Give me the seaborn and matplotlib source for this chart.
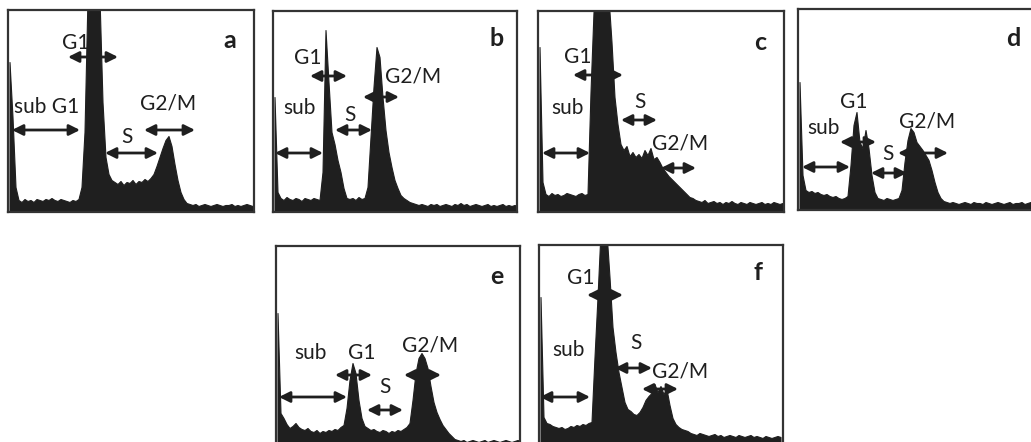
import numpy as np
import pandas as pd
import matplotlib
matplotlib.use("Agg")
import matplotlib.pyplot as plt
import seaborn as sns

# --- data: DNA content histograms, 82 channels per sample ---
panel_names = ["a", "b", "c", "d", "e", "f"]
phase_labels = ["sub G1", "G1", "S", "G2/M"]

counts_a = [150, 95, 25,
            12, 10, 13, 11, 12, 10, 13, 12, 11, 13, 12, 14, 12, 11, 13, 12, 11, 10, 12, 11, 13,
            25, 80, 215, 215, 215, 215, 215, 110, 55, 38, 32,
            30, 28, 31, 27, 30, 29, 32, 28, 31, 30, 33, 31, 34,
            38, 46, 55, 64, 72, 76, 66, 48, 32, 20, 13, 9,
            8, 7, 8, 6, 7, 8, 7, 6, 7, 8, 7, 6, 7, 7, 8, 6, 7, 6, 7, 8, 7, 6]

counts_b = [115, 20,
            14, 12, 15, 13, 12, 14, 13, 11, 14, 13, 12, 14, 13, 12,
            40, 182, 130, 80, 68, 52, 40, 24, 14,
            13, 14, 12, 15, 13, 14,
            25, 75, 125, 165, 155, 115, 82, 60, 45, 32, 24, 17, 14, 12, 10,
            9, 8, 7, 8, 7, 6, 8, 7, 8, 6, 7, 8, 7, 6, 8, 7, 9, 7, 8, 6, 7, 8, 7, 6,
            7, 8, 6, 7, 6, 7, 8, 6, 7, 6, 7, 6]

counts_c = [165, 30,
            18, 16, 19, 17, 18, 16, 17, 19, 18, 17, 16, 18, 19, 17, 18,
            120, 200, 215, 215, 215, 215, 215, 170, 115, 88, 68,
            62, 66, 56, 60, 55, 58, 54, 62, 57, 64, 53, 55, 50,
            44, 40, 36, 33, 30, 27, 24, 21, 18, 15, 14, 12,
            11, 10, 12, 9, 10, 11, 9, 10, 8, 10, 9, 11, 9, 8, 10, 9, 8, 10, 9, 8,
            9, 10, 8, 9, 8, 10, 9, 8, 9]

counts_d = [128, 35,
            20, 18, 19, 17, 18, 16, 15, 16, 14, 13, 14, 12, 11, 12,
            14, 45, 85, 98, 68, 62, 80, 62, 35, 18, 12,
            11, 10, 12, 11, 10, 11, 12,
            20, 48, 70, 82, 78, 68, 64, 60, 55, 50, 40, 28, 18, 12,
            9, 8, 7, 8, 7, 6, 7, 8, 7, 6, 8, 7, 7, 6, 8, 7, 6, 7, 8, 7, 6, 7, 8, 6,
            7, 7, 8, 6, 7, 8, 7, 6, 7, 8]

counts_e = [135, 35,
            30, 24, 20, 22, 25, 21, 19, 18, 20, 17, 16, 18, 15, 17, 16, 18, 17, 19, 18, 21, 23,
            40, 68, 85, 75, 48, 30, 22,
            20, 18, 19, 17, 16, 18, 17, 15, 17, 16, 18, 17, 19, 21,
            25, 48, 75, 90, 95, 90, 80, 62, 46, 36, 29, 23, 19, 15, 12,
            9, 8, 7, 8, 6, 7, 8, 7, 6, 7, 8, 6, 7, 8, 7, 6, 7, 8, 7, 6, 7, 8, 7]

counts_f = [150, 30,
            24, 23, 21, 20, 19, 20, 18, 19, 21, 20, 22, 21, 23, 22, 24, 25,
            90, 150, 215, 215, 215,
            170, 120, 95, 75, 60, 45, 38, 36, 33, 32, 35, 40, 47, 51, 54, 63, 55, 61,
            53, 58, 42, 29, 23, 20, 18, 17, 16,
            14, 13, 12, 14, 13, 12, 11, 12, 13, 11, 12, 10, 11, 12, 11, 10, 12, 11, 10,
            11, 12, 10, 11, 10, 9, 11, 10, 9, 10, 11, 10]

all_counts = [counts_a, counts_b, counts_c, counts_d, counts_e, counts_f]

# --- layout (pixels in a 1031x442 canvas): left, top, width, height ---
W, H = 1031, 442
boxes = {
    "a": (8, 10, 246, 202),
    "b": (273, 11, 244, 201),
    "c": (538, 11, 246, 201),
    "d": (798, 9, 246, 201),
    "e": (276, 246, 244, 202),
    "f": (539, 245, 244, 202),
}

# annotation spots per panel: label -> (text x, text y, arrow x0, arrow x1, arrow y)
notes = {
    "a": {"sub G1": (39, 105, 4, 72, 82), "G1": (68, 169, 60, 110, 155),
          "S": (119, 75, 97, 150, 59), "G2/M": (160, 109, 136, 187, 82)},
    "b": {"sub": (26, 104, 2, 50, 59), "G1": (35, 154, 37, 74, 136),
          "S": (77, 97, 62, 99, 82), "G2/M": (140, 136, 90, 126, 115)},
    "c": {"sub": (29, 104, 4, 52, 59), "G1": (40, 155, 35, 85, 137),
          "S": (102, 110, 83, 119, 92), "G2/M": (142, 69, 123, 158, 44)},
    "d": {"sub": (25, 82, 4, 52, 43), "G1": (56, 108, 42, 78, 68),
          "S": (90, 56, 73, 109, 37), "G2/M": (129, 88, 100, 150, 57)},
    "e": {"sub": (34, 95, 3, 71, 51), "G1": (86, 95, 59, 96, 73),
          "S": (109, 61, 91, 127, 38), "G2/M": (154, 103, 128, 165, 73)},
    "f": {"sub": (29, 97, 1, 51, 50), "G1": (42, 169, 48, 84, 152),
          "S": (97, 104, 76, 113, 79), "G2/M": (141, 75, 103, 139, 58)},
}
letter_pos = {"a": (222, 172), "b": (224, 174), "c": (222, 170),
              "d": (215, 172), "e": (221, 171), "f": (219, 174)}

sns.set_style("white")
plt.rcParams["font.family"] = ["Lato", "DejaVu Sans"]

ink = "#1f1f1f"
fig = plt.figure(figsize=(W / 100, H / 100), dpi=100)

for name, counts in zip(panel_names, all_counts):
    left, top, w, h = boxes[name]
    ax = fig.add_axes([left / W, 1 - (top + h) / H, w / W, h / H])
    n = len(counts)
    df = pd.DataFrame({"channel": np.arange(n) * 3.0 + 1.5, "count": counts})
    sns.histplot(data=df, x="channel", weights="count", binwidth=3,
                 binrange=(0, 3 * n), element="poly", fill=True, color=ink,
                 alpha=1, linewidth=0.8, edgecolor=ink, ax=ax)
    ax.set_xlim(0, w)
    ax.set_ylim(0, h)
    ax.set_xticks([])
    ax.set_yticks([])
    ax.set_xlabel("")
    ax.set_ylabel("")
    for sp in ax.spines.values():
        sp.set_visible(True)
        sp.set_color("#333333")
        sp.set_linewidth(1.6)
        sp.set_zorder(5)

    for label, (tx, ty, x0, x1, ay) in notes[name].items():
        ax.text(tx, ty, label, ha="center", va="center", fontsize=15, color=ink)
        ax.annotate("", xy=(x1, ay), xytext=(x0, ay),
                    arrowprops=dict(arrowstyle="<|-|>", color=ink, lw=2,
                                    mutation_scale=16, shrinkA=0, shrinkB=0))
    lx, ly = letter_pos[name]
    ax.text(lx, ly, name, ha="center", va="center", fontsize=18,
            fontweight="bold", color=ink)

fig.savefig("out.png", dpi=100)
